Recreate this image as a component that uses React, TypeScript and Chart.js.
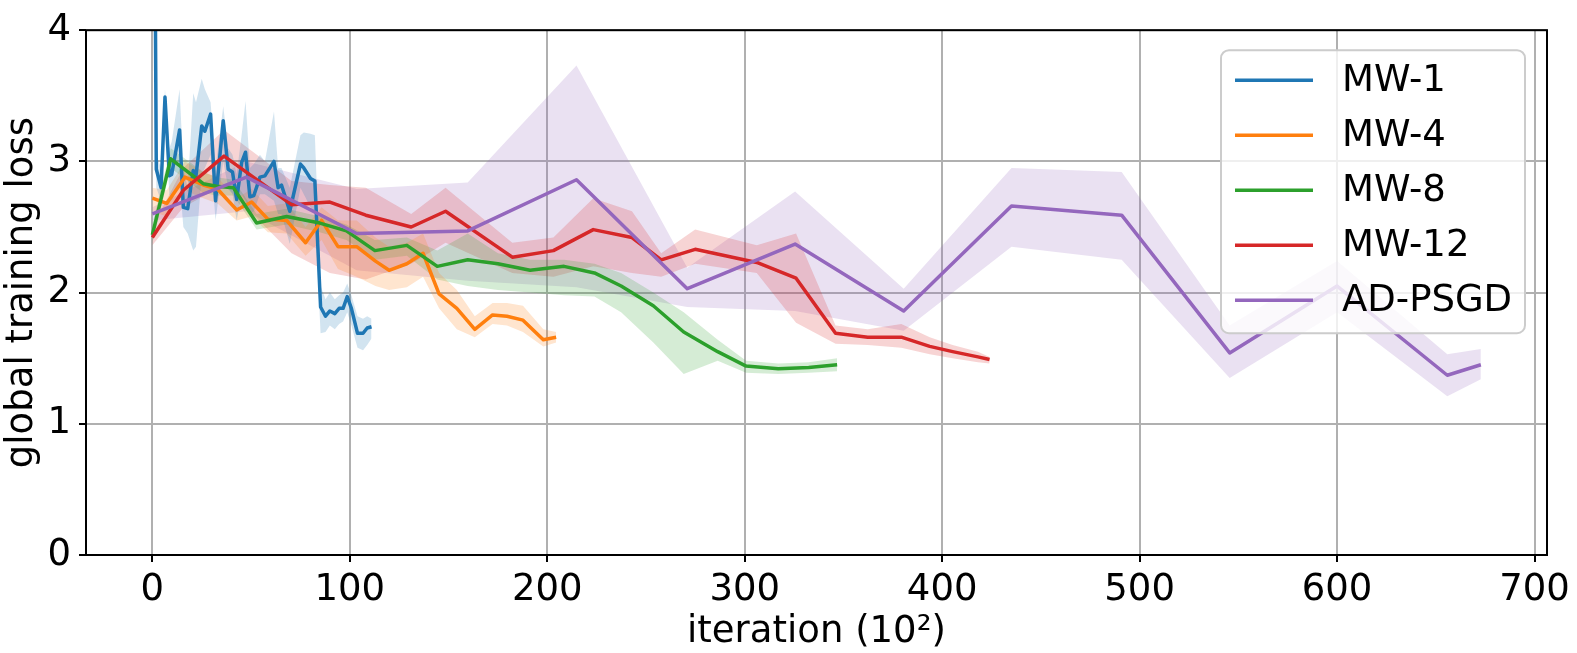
import { useEffect, useRef } from "react"
import { Chart, registerables } from "chart.js"

Chart.register(...registerables)

const seriesNames = ["MW-1", "MW-4", "MW-8", "MW-12", "AD-PSGD"]
const seriesColors = ["#1f77b4", "#ff7f0e", "#2ca02c", "#d62728", "#9467bd"]
const bandColors = [
  "rgba(31, 119, 180, 0.2)",
  "rgba(255, 127, 14, 0.2)",
  "rgba(44, 160, 44, 0.2)",
  "rgba(214, 39, 40, 0.2)",
  "rgba(148, 103, 189, 0.2)",
]

const xTicks = [0, 100, 200, 300, 400, 500, 600, 700]
const yTicks = [0, 1, 2, 3, 4]

// MW-1
const mw1X = [1.0, 2.0, 4.4, 6.4, 8.6, 9.8, 13.8, 15.7, 17.9, 20.7, 22.1, 25.0, 26.6, 29.5, 32.0, 35.9, 38.4, 40.6, 42.7, 45.2, 47.2, 49.4, 51.4, 54.5, 57.0, 61.6, 63.7, 65.4, 69.6, 75.0, 76.7, 80.1, 82.3, 85.2, 87.7, 89.9, 92.4, 94.6, 96.6, 98.7, 100.8, 103.9, 106.7, 108.8, 111.0]
const mw1Y = [5.5, 2.94, 2.8, 3.49, 2.89, 2.9, 3.24, 2.65, 2.64, 2.93, 2.89, 3.27, 3.23, 3.36, 2.7, 3.31, 2.94, 2.92, 2.71, 2.99, 3.07, 2.73, 2.74, 2.88, 2.89, 3.0, 2.8, 2.82, 2.62, 2.98, 2.95, 2.87, 2.85, 1.89, 1.82, 1.86, 1.84, 1.88, 1.88, 1.97, 1.88, 1.69, 1.69, 1.73, 1.74]
const mw1Lo = [5.0, 2.8, 2.7, 3.3, 2.75, 2.7, 2.85, 2.5, 2.45, 2.32, 2.35, 2.9, 2.95, 3.05, 2.55, 3.0, 2.8, 2.75, 2.55, 2.75, 2.7, 2.6, 2.62, 2.75, 2.75, 2.7, 2.6, 2.6, 2.37, 2.8, 2.75, 2.65, 2.6, 1.69, 1.7, 1.75, 1.72, 1.76, 1.78, 1.85, 1.75, 1.58, 1.56, 1.6, 1.65]
const mw1Hi = [6.0, 3.05, 2.95, 3.55, 3.1, 3.15, 3.55, 2.95, 2.8, 3.52, 3.45, 3.63, 3.55, 3.45, 2.95, 3.42, 3.1, 3.05, 2.9, 3.2, 3.46, 2.95, 2.98, 3.05, 3.0, 3.38, 2.95, 2.95, 2.8, 3.2, 3.22, 3.21, 3.2, 2.05, 1.95, 2.0, 1.95, 1.98, 2.0, 2.07, 1.98, 1.82, 1.8, 1.82, 1.8]

// MW-4
const mw4X = [0, 7.3, 16.5, 25.8, 33.0, 42.7, 50.3, 58.5, 68.0, 77.6, 85.7, 94.0, 103.5, 113.0, 119.9, 128.9, 137.1, 145.2, 154.2, 163.3, 172.3, 179.6, 187.7, 198.0, 204.5]
const mw4Y = [2.72, 2.68, 2.88, 2.82, 2.79, 2.63, 2.69, 2.56, 2.55, 2.38, 2.55, 2.35, 2.35, 2.24, 2.17, 2.22, 2.3, 1.99, 1.88, 1.72, 1.83, 1.82, 1.79, 1.64, 1.66]
const mw4Lo = [2.62, 2.58, 2.78, 2.72, 2.68, 2.55, 2.58, 2.46, 2.45, 2.28, 2.4, 2.18, 2.12, 2.05, 2.02, 2.04, 2.12, 1.88, 1.72, 1.66, 1.76, 1.75, 1.7, 1.59, 1.62]
const mw4Hi = [2.8, 2.78, 3.0, 2.92, 2.88, 2.72, 2.79, 2.66, 2.68, 2.5, 2.65, 2.55, 2.55, 2.42, 2.35, 2.38, 2.45, 2.15, 2.02, 1.82, 1.92, 1.92, 1.9, 1.72, 1.7]

// MW-8
const mw8X = [0, 9.3, 25.8, 32.5, 41.0, 52.8, 68.0, 84.8, 98.3, 112.7, 128.9, 144.3, 159.7, 175.0, 191.3, 208.5, 223.9, 237.4, 253.7, 269.1, 286.3, 300.7, 317.0, 332.4, 346.8]
const mw8Y = [2.44, 3.02, 2.83, 2.81, 2.8, 2.53, 2.58, 2.53, 2.47, 2.32, 2.36, 2.2, 2.25, 2.22, 2.17, 2.2, 2.15, 2.05, 1.9, 1.7, 1.55, 1.44, 1.42, 1.43, 1.45]
const mw8Lo = [2.38, 2.95, 2.76, 2.74, 2.74, 2.48, 2.52, 2.46, 2.4, 2.25, 2.28, 2.1, 2.05, 2.02, 2.0, 1.98, 1.97, 1.85, 1.62, 1.38, 1.48, 1.39, 1.38, 1.39, 1.4]
const mw8Hi = [2.52, 3.1, 2.92, 2.88, 2.86, 2.6, 2.64, 2.58, 2.52, 2.4, 2.42, 2.32, 2.45, 2.3, 2.25, 2.25, 2.22, 2.15, 2.0, 1.85, 1.64, 1.48, 1.46, 1.47, 1.5]

// MW-12
const mw12X = [0, 15.7, 36.3, 70.5, 89.9, 108.1, 131.1, 148.5, 182.3, 203.1, 223.3, 242.9, 257.7, 274.9, 306.1, 326.0, 346.0, 362.3, 379.3, 393.7, 405.3, 418.1, 424.0]
const mw12Y = [2.42, 2.78, 3.04, 2.67, 2.69, 2.59, 2.5, 2.62, 2.27, 2.32, 2.48, 2.42, 2.25, 2.33, 2.23, 2.11, 1.69, 1.66, 1.66, 1.59, 1.55, 1.51, 1.49]
const mw12Lo = [2.36, 2.65, 2.82, 2.3, 2.15, 2.1, 2.22, 2.38, 2.15, 2.12, 2.2, 2.15, 2.12, 2.22, 2.15, 1.77, 1.61, 1.6, 1.58, 1.53, 1.5, 1.47, 1.46]
const mw12Hi = [2.5, 2.95, 3.24, 2.85, 2.82, 2.8, 2.6, 2.8, 2.38, 2.42, 2.72, 2.62, 2.3, 2.48, 2.36, 2.45, 1.75, 1.72, 1.76, 1.66, 1.6, 1.55, 1.51]

// AD-PSGD
const adX = [0, 47.7, 103.5, 159.7, 214.8, 270.9, 325.5, 380.5, 435.1, 490.9, 545.6, 600.0, 655.8, 672.8]
const adY = [2.6, 2.88, 2.45, 2.47, 2.86, 2.03, 2.37, 1.86, 2.66, 2.59, 1.54, 2.05, 1.37, 1.45]
const adLo = [2.55, 2.62, 2.17, 2.09, 2.04, 1.89, 1.86, 1.71, 2.35, 2.25, 1.35, 1.85, 1.21, 1.34]
const adHi = [2.65, 3.0, 2.79, 2.84, 3.73, 2.19, 2.77, 2.03, 2.95, 2.92, 1.75, 2.24, 1.53, 1.57]

const seriesX = [mw1X, mw4X, mw8X, mw12X, adX]
const seriesY = [mw1Y, mw4Y, mw8Y, mw12Y, adY]
const seriesLo = [mw1Lo, mw4Lo, mw8Lo, mw12Lo, adLo]
const seriesHi = [mw1Hi, mw4Hi, mw8Hi, mw12Hi, adHi]

const FONT = "'DejaVu Sans', sans-serif"
const FONT_SIZE = 37

const points = (xs: number[], ys: number[]) => xs.map((x, i) => ({ x, y: ys[i] }))

// frame on all four sides + matplotlib style legend in the upper right corner
const framePlugin = {
  id: "frameAndLegend",
  afterDatasetsDraw(chart: any) {
    const { ctx, chartArea } = chart
    const { left, right, top, bottom } = chartArea
    ctx.save()
    ctx.strokeStyle = "#000"
    ctx.lineWidth = 2
    ctx.strokeRect(left, top, right - left, bottom - top)

    const boxW = 304
    const boxH = 283
    const bx = right - 22 - boxW
    const by = top + 20
    const r = 8
    ctx.beginPath()
    ctx.moveTo(bx + r, by)
    ctx.arcTo(bx + boxW, by, bx + boxW, by + boxH, r)
    ctx.arcTo(bx + boxW, by + boxH, bx, by + boxH, r)
    ctx.arcTo(bx, by + boxH, bx, by, r)
    ctx.arcTo(bx, by, bx + boxW, by, r)
    ctx.closePath()
    ctx.fillStyle = "rgba(255, 255, 255, 0.8)"
    ctx.fill()
    ctx.strokeStyle = "#cccccc"
    ctx.lineWidth = 2
    ctx.stroke()

    ctx.font = `${FONT_SIZE}px ${FONT}`
    ctx.textBaseline = "middle"
    ctx.textAlign = "left"
    seriesNames.forEach((name, i) => {
      const cy = by + 30 + i * 55
      ctx.strokeStyle = seriesColors[i]
      ctx.lineWidth = 3.5
      ctx.beginPath()
      ctx.moveTo(bx + 14, cy)
      ctx.lineTo(bx + 92, cy)
      ctx.stroke()
      ctx.fillStyle = "#000"
      ctx.fillText(name, bx + 121, cy + 1)
    })
    ctx.restore()
  },
}

export default function App() {
  const chartRef = useRef<HTMLCanvasElement | null>(null)
  const chartInstance = useRef<Chart | null>(null)

  useEffect(() => {
    if (!chartRef.current) return

    const datasets: any[] = []

    // shaded bands (upper, then lower filled to the upper one)
    seriesNames.forEach((name, i) => {
      datasets.push({
        label: name + " hi",
        data: points(seriesX[i], seriesHi[i]),
        borderWidth: 0,
        pointRadius: 0,
        fill: false,
        order: 20,
        clip: 0,
      })
      datasets.push({
        label: name + " lo",
        data: points(seriesX[i], seriesLo[i]),
        borderWidth: 0,
        pointRadius: 0,
        backgroundColor: bandColors[i],
        fill: "-1",
        order: 20,
        clip: 0,
      })
    })

    // mean lines, last series drawn on top
    seriesNames.forEach((name, i) => {
      datasets.push({
        label: name,
        data: points(seriesX[i], seriesY[i]),
        borderColor: seriesColors[i],
        borderWidth: 3.5,
        borderJoinStyle: "round",
        pointRadius: 0,
        fill: false,
        tension: 0,
        order: seriesNames.length - i,
        clip: 0,
      })
    })

    if (chartInstance.current) {
      chartInstance.current.destroy()
    }

    const ctx = chartRef.current.getContext("2d")

    if (ctx) {
      chartInstance.current = new Chart(ctx, {
        type: "line",
        data: { datasets },
        options: {
          animation: false,
          responsive: true,
          maintainAspectRatio: false,
          events: [],
          layout: {
            padding: { left: 0, right: 30, top: 22, bottom: 0 },
          },
          plugins: {
            legend: { display: false },
            tooltip: { enabled: false },
          },
          scales: {
            x: {
              type: "linear",
              min: -33.6,
              max: 706.3,
              afterBuildTicks: (scale: any) => {
                scale.ticks = xTicks.map((v) => ({ value: v }))
              },
              afterFit: (scale: any) => {
                scale.height = 98
              },
              border: { display: false },
              grid: {
                color: "#b0b0b0",
                lineWidth: 2,
                tickColor: "#000",
                tickLength: 7,
                tickWidth: 2,
              },
              ticks: {
                color: "#000",
                padding: 6,
                maxRotation: 0,
                autoSkip: false,
                font: { family: FONT, size: FONT_SIZE },
                callback: (v: any) => String(v),
              },
              title: {
                display: true,
                text: "iteration (10²)",
                color: "#000",
                font: { family: FONT, size: FONT_SIZE, lineHeight: 1.1 },
                padding: { top: 0, bottom: 0 },
              },
            },
            y: {
              type: "linear",
              min: 0,
              max: 4,
              afterBuildTicks: (scale: any) => {
                scale.ticks = yTicks.map((v) => ({ value: v }))
              },
              afterFit: (scale: any) => {
                scale.width = 86
              },
              border: { display: false },
              grid: {
                color: "#b0b0b0",
                lineWidth: 2,
                tickColor: "#000",
                tickLength: 7,
                tickWidth: 2,
              },
              ticks: {
                color: "#000",
                padding: 8,
                autoSkip: false,
                font: { family: FONT, size: FONT_SIZE },
                callback: (v: any) => String(v),
              },
              title: {
                display: true,
                text: "global training loss",
                color: "#000",
                font: { family: FONT, size: FONT_SIZE, lineHeight: 1.1 },
                padding: { top: 2, bottom: 0 },
              },
            },
          },
        },
        plugins: [framePlugin],
      })
    }

    return () => {
      if (chartInstance.current) {
        chartInstance.current.destroy()
        chartInstance.current = null
      }
    }
  }, [])

  return (
    <div
      style={{
        position: "absolute",
        left: 0,
        top: 0,
        width: 1577,
        height: 653,
        background: "#fff",
      }}
    >
      <canvas ref={chartRef} />
    </div>
  )
}
